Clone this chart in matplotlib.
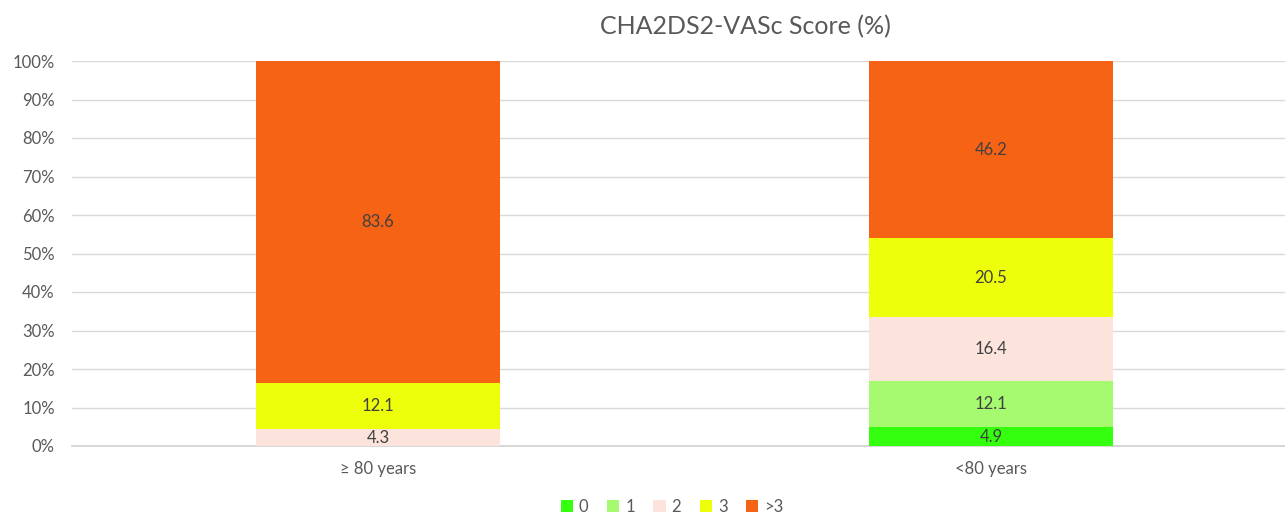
import numpy as np
import matplotlib.pyplot as plt

# Data
categories = ['≥ 80 years', '<80 years']
score_labels = ['0', '1', '2', '3', '>3']
score_0 = [0.0, 4.9]
score_1 = [0.0, 12.1]
score_2 = [4.3, 16.4]
score_3 = [12.1, 20.5]
score_gt3 = [83.6, 46.2]

series = [score_0, score_1, score_2, score_3, score_gt3]
colors = ['#33FF0E', '#A6FA6F', '#FCE3DC', '#EEFF0C', '#F66315']

plt.rcParams['font.family'] = ['Lato', 'DejaVu Sans']

fig = plt.figure(figsize=(12.85, 5.14), dpi=100)
ax = fig.add_axes([71.5 / 1285, 1 - 446 / 514, 1226 / 1285, 385 / 514])

x = np.arange(len(categories))
bottom = np.zeros(len(categories))
for vals, col, lab in zip(series, colors, score_labels):
    vals = np.array(vals)
    ax.bar(x, vals, 0.398, bottom=bottom, color=col, label=lab, zorder=3)
    for xi, v, b in zip(x, vals, bottom):
        if v > 0:
            ax.text(xi, b + v / 2, f'{v:.1f}', ha='center', va='center',
                    fontsize=12, color='#404040', zorder=4)
    bottom += vals

ax.set_xlim(-0.5, 1.5)
ax.set_ylim(0, 100)
ax.set_yticks(np.arange(0, 101, 10))
ax.set_yticklabels([f'{t}%' for t in range(0, 101, 10)])
ax.set_xticks(x)
ax.set_xticklabels(categories)
ax.tick_params(axis='both', length=0, labelsize=12, colors='#595959')
ax.tick_params(axis='x', pad=11)
ax.tick_params(axis='y', pad=12)
ax.grid(axis='y', color='#D9D9D9', linewidth=1, zorder=0)
for s in ['top', 'right', 'left']:
    ax.spines[s].set_visible(False)
ax.spines['bottom'].set_color('#D0D0D0')
ax.spines['bottom'].set_linewidth(1.2)

fig.text(745 / 1285, 1 - 27 / 514, 'CHA2DS2-VASc Score (%)', ha='center',
         va='center', fontsize=18, color='#595959')

ax.legend(loc='center', bbox_to_anchor=(672 / 1285, 1 - 507 / 514),
          bbox_transform=fig.transFigure, ncol=5, frameon=False,
          fontsize=12, labelcolor='#595959', handlelength=0.75,
          handleheight=0.75, handletextpad=0.35, columnspacing=1.1)

fig.savefig('out.png', dpi=100)
